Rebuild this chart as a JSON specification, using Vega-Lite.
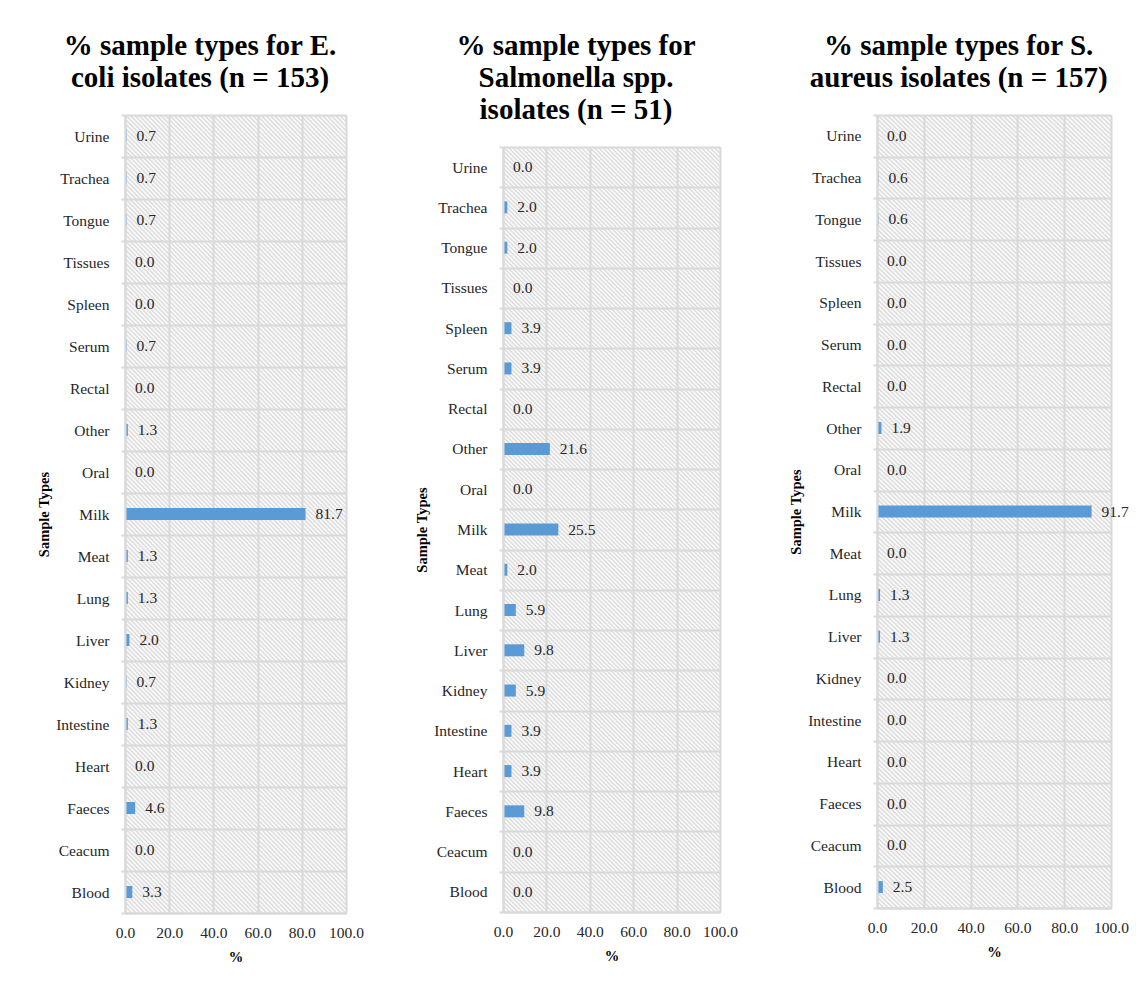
{
  "$schema": "https://vega.github.io/schema/vega-lite/v6.json",
  "background": "white",
  "padding": {"left": 36, "top": 31, "right": 4, "bottom": 4},
  "spacing": 50,
  "align": "none",
  "bounds": "full",
  "datasets": {
    "isolates": [
      {"organism": "E. coli", "sample": "Urine", "pct": 0.7},
      {"organism": "E. coli", "sample": "Trachea", "pct": 0.7},
      {"organism": "E. coli", "sample": "Tongue", "pct": 0.7},
      {"organism": "E. coli", "sample": "Tissues", "pct": 0.0},
      {"organism": "E. coli", "sample": "Spleen", "pct": 0.0},
      {"organism": "E. coli", "sample": "Serum", "pct": 0.7},
      {"organism": "E. coli", "sample": "Rectal", "pct": 0.0},
      {"organism": "E. coli", "sample": "Other", "pct": 1.3},
      {"organism": "E. coli", "sample": "Oral", "pct": 0.0},
      {"organism": "E. coli", "sample": "Milk", "pct": 81.7},
      {"organism": "E. coli", "sample": "Meat", "pct": 1.3},
      {"organism": "E. coli", "sample": "Lung", "pct": 1.3},
      {"organism": "E. coli", "sample": "Liver", "pct": 2.0},
      {"organism": "E. coli", "sample": "Kidney", "pct": 0.7},
      {"organism": "E. coli", "sample": "Intestine", "pct": 1.3},
      {"organism": "E. coli", "sample": "Heart", "pct": 0.0},
      {"organism": "E. coli", "sample": "Faeces", "pct": 4.6},
      {"organism": "E. coli", "sample": "Ceacum", "pct": 0.0},
      {"organism": "E. coli", "sample": "Blood", "pct": 3.3},
      {"organism": "Salmonella", "sample": "Urine", "pct": 0.0},
      {"organism": "Salmonella", "sample": "Trachea", "pct": 2.0},
      {"organism": "Salmonella", "sample": "Tongue", "pct": 2.0},
      {"organism": "Salmonella", "sample": "Tissues", "pct": 0.0},
      {"organism": "Salmonella", "sample": "Spleen", "pct": 3.9},
      {"organism": "Salmonella", "sample": "Serum", "pct": 3.9},
      {"organism": "Salmonella", "sample": "Rectal", "pct": 0.0},
      {"organism": "Salmonella", "sample": "Other", "pct": 21.6},
      {"organism": "Salmonella", "sample": "Oral", "pct": 0.0},
      {"organism": "Salmonella", "sample": "Milk", "pct": 25.5},
      {"organism": "Salmonella", "sample": "Meat", "pct": 2.0},
      {"organism": "Salmonella", "sample": "Lung", "pct": 5.9},
      {"organism": "Salmonella", "sample": "Liver", "pct": 9.8},
      {"organism": "Salmonella", "sample": "Kidney", "pct": 5.9},
      {"organism": "Salmonella", "sample": "Intestine", "pct": 3.9},
      {"organism": "Salmonella", "sample": "Heart", "pct": 3.9},
      {"organism": "Salmonella", "sample": "Faeces", "pct": 9.8},
      {"organism": "Salmonella", "sample": "Ceacum", "pct": 0.0},
      {"organism": "Salmonella", "sample": "Blood", "pct": 0.0},
      {"organism": "S. aureus", "sample": "Urine", "pct": 0.0},
      {"organism": "S. aureus", "sample": "Trachea", "pct": 0.6},
      {"organism": "S. aureus", "sample": "Tongue", "pct": 0.6},
      {"organism": "S. aureus", "sample": "Tissues", "pct": 0.0},
      {"organism": "S. aureus", "sample": "Spleen", "pct": 0.0},
      {"organism": "S. aureus", "sample": "Serum", "pct": 0.0},
      {"organism": "S. aureus", "sample": "Rectal", "pct": 0.0},
      {"organism": "S. aureus", "sample": "Other", "pct": 1.9},
      {"organism": "S. aureus", "sample": "Oral", "pct": 0.0},
      {"organism": "S. aureus", "sample": "Milk", "pct": 91.7},
      {"organism": "S. aureus", "sample": "Meat", "pct": 0.0},
      {"organism": "S. aureus", "sample": "Lung", "pct": 1.3},
      {"organism": "S. aureus", "sample": "Liver", "pct": 1.3},
      {"organism": "S. aureus", "sample": "Kidney", "pct": 0.0},
      {"organism": "S. aureus", "sample": "Intestine", "pct": 0.0},
      {"organism": "S. aureus", "sample": "Heart", "pct": 0.0},
      {"organism": "S. aureus", "sample": "Faeces", "pct": 0.0},
      {"organism": "S. aureus", "sample": "Ceacum", "pct": 0.0},
      {"organism": "S. aureus", "sample": "Blood", "pct": 2.5}
    ],
    "none": []
  },
  "hconcat": [
    {
      "spacing": 0,
      "vconcat": [
        {"width": 10, "height": 1, "data": {"name": "none"}, "mark": {"type": "point", "opacity": 0}},
        {
          "width": 221,
          "height": 798,
          "title": {"text": ["% sample types for E.", "coli isolates (n = 153)"]},
          "data": {"name": "isolates"},
          "transform": [{"filter": "datum.organism === 'E. coli'"}],
          "encoding": {
            "y": {
              "field": "sample", "type": "nominal", "title": "Sample Types",
              "sort": ["Urine", "Trachea", "Tongue", "Tissues", "Spleen", "Serum", "Rectal", "Other", "Oral", "Milk", "Meat", "Lung", "Liver", "Kidney", "Intestine", "Heart", "Faeces", "Ceacum", "Blood"],
              "scale": {"paddingInner": 0, "paddingOuter": 0},
              "axis": {"tickBand": "extent", "grid": true, "domain": true, "ticks": true, "tickSize": 4, "labelPadding": 12, "titlePadding": 4}
            }
          },
          "layer": [
            {
              "mark": {"type": "rect"},
              "encoding": {
                "x": {"datum": 0, "type": "quantitative", "title": "%", "scale": {"domain": [0, 100], "nice": false},
                      "axis": {"values": [0, 20, 40, 60, 80, 100], "format": ".1f", "ticks": false, "tickSize": 0, "labelFlush": false, "labelPadding": 12, "titlePadding": 10, "grid": true, "domain": true}},
                "x2": {"datum": 100}
              }
            },
            {
              "mark": {"type": "bar", "size": 12},
              "encoding": {"x": {"field": "pct", "type": "quantitative", "title": "%"}}
            },
            {
              "mark": {"type": "text", "align": "left", "baseline": "middle", "dx": 10},
              "encoding": {"x": {"field": "pct", "type": "quantitative", "title": "%"}, "text": {"field": "pct", "type": "quantitative", "format": ".1f"}}
            }
          ]
        }
      ]
    },
    {
      "spacing": 0,
      "vconcat": [
        {"width": 10, "height": 1, "data": {"name": "none"}, "mark": {"type": "point", "opacity": 0}},
        {
          "width": 217,
          "height": 765,
          "title": {"text": ["% sample types for", "Salmonella spp.", "isolates (n = 51)"]},
          "data": {"name": "isolates"},
          "transform": [{"filter": "datum.organism === 'Salmonella'"}],
          "encoding": {
            "y": {
              "field": "sample", "type": "nominal", "title": "Sample Types",
              "sort": ["Urine", "Trachea", "Tongue", "Tissues", "Spleen", "Serum", "Rectal", "Other", "Oral", "Milk", "Meat", "Lung", "Liver", "Kidney", "Intestine", "Heart", "Faeces", "Ceacum", "Blood"],
              "scale": {"paddingInner": 0, "paddingOuter": 0},
              "axis": {"tickBand": "extent", "grid": true, "domain": true, "ticks": true, "tickSize": 4, "labelPadding": 12, "titlePadding": 4}
            }
          },
          "layer": [
            {
              "mark": {"type": "rect"},
              "encoding": {
                "x": {"datum": 0, "type": "quantitative", "title": "%", "scale": {"domain": [0, 100], "nice": false},
                      "axis": {"values": [0, 20, 40, 60, 80, 100], "format": ".1f", "ticks": false, "tickSize": 0, "labelFlush": false, "labelPadding": 12, "titlePadding": 10, "grid": true, "domain": true}},
                "x2": {"datum": 100}
              }
            },
            {
              "mark": {"type": "bar", "size": 12},
              "encoding": {"x": {"field": "pct", "type": "quantitative", "title": "%"}}
            },
            {
              "mark": {"type": "text", "align": "left", "baseline": "middle", "dx": 10},
              "encoding": {"x": {"field": "pct", "type": "quantitative", "title": "%"}, "text": {"field": "pct", "type": "quantitative", "format": ".1f"}}
            }
          ]
        }
      ]
    },
    {
      "spacing": 0,
      "vconcat": [
        {"width": 10, "height": 1, "data": {"name": "none"}, "mark": {"type": "point", "opacity": 0}},
        {
          "width": 234,
          "height": 793,
          "title": {"text": ["% sample types for S.", "aureus isolates (n = 157)"]},
          "data": {"name": "isolates"},
          "transform": [{"filter": "datum.organism === 'S. aureus'"}],
          "encoding": {
            "y": {
              "field": "sample", "type": "nominal", "title": "Sample Types",
              "sort": ["Urine", "Trachea", "Tongue", "Tissues", "Spleen", "Serum", "Rectal", "Other", "Oral", "Milk", "Meat", "Lung", "Liver", "Kidney", "Intestine", "Heart", "Faeces", "Ceacum", "Blood"],
              "scale": {"paddingInner": 0, "paddingOuter": 0},
              "axis": {"tickBand": "extent", "grid": true, "domain": true, "ticks": true, "tickSize": 4, "labelPadding": 12, "titlePadding": 4}
            }
          },
          "layer": [
            {
              "mark": {"type": "rect"},
              "encoding": {
                "x": {"datum": 0, "type": "quantitative", "title": "%", "scale": {"domain": [0, 100], "nice": false},
                      "axis": {"values": [0, 20, 40, 60, 80, 100], "format": ".1f", "ticks": false, "tickSize": 0, "labelFlush": false, "labelPadding": 12, "titlePadding": 10, "grid": true, "domain": true}},
                "x2": {"datum": 100}
              }
            },
            {
              "mark": {"type": "bar", "size": 12},
              "encoding": {"x": {"field": "pct", "type": "quantitative", "title": "%"}}
            },
            {
              "mark": {"type": "text", "align": "left", "baseline": "middle", "dx": 10},
              "encoding": {"x": {"field": "pct", "type": "quantitative", "title": "%"}, "text": {"field": "pct", "type": "quantitative", "format": ".1f"}}
            }
          ]
        }
      ]
    }
  ],
  "config": {
    "view": {"stroke": null},
    "font": "Liberation Serif",
    "bar": {"color": "#5b9bd5"},
    "text": {"font": "Liberation Serif", "fontSize": 15.5, "color": "#262626"},
    "rect": {
      "stroke": null,
      "fill": {
        "gradient": "linear", "x1": 0, "y1": 1, "x2": 1.146, "y2": 0.788,
        "stops": [
          {"offset": 0, "color": "rgba(217,217,217,0)"}, {"offset": 0.0083, "color": "#d9d9d9"},
          {"offset": 0.0167, "color": "rgba(217,217,217,0)"}, {"offset": 0.025, "color": "#d9d9d9"},
          {"offset": 0.0333, "color": "rgba(217,217,217,0)"}, {"offset": 0.0417, "color": "#d9d9d9"},
          {"offset": 0.05, "color": "rgba(217,217,217,0)"}, {"offset": 0.0583, "color": "#d9d9d9"},
          {"offset": 0.0667, "color": "rgba(217,217,217,0)"}, {"offset": 0.075, "color": "#d9d9d9"},
          {"offset": 0.0833, "color": "rgba(217,217,217,0)"}, {"offset": 0.0917, "color": "#d9d9d9"},
          {"offset": 0.1, "color": "rgba(217,217,217,0)"}, {"offset": 0.1083, "color": "#d9d9d9"},
          {"offset": 0.1167, "color": "rgba(217,217,217,0)"}, {"offset": 0.125, "color": "#d9d9d9"},
          {"offset": 0.1333, "color": "rgba(217,217,217,0)"}, {"offset": 0.1417, "color": "#d9d9d9"},
          {"offset": 0.15, "color": "rgba(217,217,217,0)"}, {"offset": 0.1583, "color": "#d9d9d9"},
          {"offset": 0.1667, "color": "rgba(217,217,217,0)"}, {"offset": 0.175, "color": "#d9d9d9"},
          {"offset": 0.1833, "color": "rgba(217,217,217,0)"}, {"offset": 0.1917, "color": "#d9d9d9"},
          {"offset": 0.2, "color": "rgba(217,217,217,0)"}, {"offset": 0.2083, "color": "#d9d9d9"},
          {"offset": 0.2167, "color": "rgba(217,217,217,0)"}, {"offset": 0.225, "color": "#d9d9d9"},
          {"offset": 0.2333, "color": "rgba(217,217,217,0)"}, {"offset": 0.2417, "color": "#d9d9d9"},
          {"offset": 0.25, "color": "rgba(217,217,217,0)"}, {"offset": 0.2583, "color": "#d9d9d9"},
          {"offset": 0.2667, "color": "rgba(217,217,217,0)"}, {"offset": 0.275, "color": "#d9d9d9"},
          {"offset": 0.2833, "color": "rgba(217,217,217,0)"}, {"offset": 0.2917, "color": "#d9d9d9"},
          {"offset": 0.3, "color": "rgba(217,217,217,0)"}, {"offset": 0.3083, "color": "#d9d9d9"},
          {"offset": 0.3167, "color": "rgba(217,217,217,0)"}, {"offset": 0.325, "color": "#d9d9d9"},
          {"offset": 0.3333, "color": "rgba(217,217,217,0)"}, {"offset": 0.3417, "color": "#d9d9d9"},
          {"offset": 0.35, "color": "rgba(217,217,217,0)"}, {"offset": 0.3583, "color": "#d9d9d9"},
          {"offset": 0.3667, "color": "rgba(217,217,217,0)"}, {"offset": 0.375, "color": "#d9d9d9"},
          {"offset": 0.3833, "color": "rgba(217,217,217,0)"}, {"offset": 0.3917, "color": "#d9d9d9"},
          {"offset": 0.4, "color": "rgba(217,217,217,0)"}, {"offset": 0.4083, "color": "#d9d9d9"},
          {"offset": 0.4167, "color": "rgba(217,217,217,0)"}, {"offset": 0.425, "color": "#d9d9d9"},
          {"offset": 0.4333, "color": "rgba(217,217,217,0)"}, {"offset": 0.4417, "color": "#d9d9d9"},
          {"offset": 0.45, "color": "rgba(217,217,217,0)"}, {"offset": 0.4583, "color": "#d9d9d9"},
          {"offset": 0.4667, "color": "rgba(217,217,217,0)"}, {"offset": 0.475, "color": "#d9d9d9"},
          {"offset": 0.4833, "color": "rgba(217,217,217,0)"}, {"offset": 0.4917, "color": "#d9d9d9"},
          {"offset": 0.5, "color": "rgba(217,217,217,0)"}, {"offset": 0.5083, "color": "#d9d9d9"},
          {"offset": 0.5167, "color": "rgba(217,217,217,0)"}, {"offset": 0.525, "color": "#d9d9d9"},
          {"offset": 0.5333, "color": "rgba(217,217,217,0)"}, {"offset": 0.5417, "color": "#d9d9d9"},
          {"offset": 0.55, "color": "rgba(217,217,217,0)"}, {"offset": 0.5583, "color": "#d9d9d9"},
          {"offset": 0.5667, "color": "rgba(217,217,217,0)"}, {"offset": 0.575, "color": "#d9d9d9"},
          {"offset": 0.5833, "color": "rgba(217,217,217,0)"}, {"offset": 0.5917, "color": "#d9d9d9"},
          {"offset": 0.6, "color": "rgba(217,217,217,0)"}, {"offset": 0.6083, "color": "#d9d9d9"},
          {"offset": 0.6167, "color": "rgba(217,217,217,0)"}, {"offset": 0.625, "color": "#d9d9d9"},
          {"offset": 0.6333, "color": "rgba(217,217,217,0)"}, {"offset": 0.6417, "color": "#d9d9d9"},
          {"offset": 0.65, "color": "rgba(217,217,217,0)"}, {"offset": 0.6583, "color": "#d9d9d9"},
          {"offset": 0.6667, "color": "rgba(217,217,217,0)"}, {"offset": 0.675, "color": "#d9d9d9"},
          {"offset": 0.6833, "color": "rgba(217,217,217,0)"}, {"offset": 0.6917, "color": "#d9d9d9"},
          {"offset": 0.7, "color": "rgba(217,217,217,0)"}, {"offset": 0.7083, "color": "#d9d9d9"},
          {"offset": 0.7167, "color": "rgba(217,217,217,0)"}, {"offset": 0.725, "color": "#d9d9d9"},
          {"offset": 0.7333, "color": "rgba(217,217,217,0)"}, {"offset": 0.7417, "color": "#d9d9d9"},
          {"offset": 0.75, "color": "rgba(217,217,217,0)"}, {"offset": 0.7583, "color": "#d9d9d9"},
          {"offset": 0.7667, "color": "rgba(217,217,217,0)"}, {"offset": 0.775, "color": "#d9d9d9"},
          {"offset": 0.7833, "color": "rgba(217,217,217,0)"}, {"offset": 0.7917, "color": "#d9d9d9"},
          {"offset": 0.8, "color": "rgba(217,217,217,0)"}, {"offset": 0.8083, "color": "#d9d9d9"},
          {"offset": 0.8167, "color": "rgba(217,217,217,0)"}, {"offset": 0.825, "color": "#d9d9d9"},
          {"offset": 0.8333, "color": "rgba(217,217,217,0)"}, {"offset": 0.8417, "color": "#d9d9d9"},
          {"offset": 0.85, "color": "rgba(217,217,217,0)"}, {"offset": 0.8583, "color": "#d9d9d9"},
          {"offset": 0.8667, "color": "rgba(217,217,217,0)"}, {"offset": 0.875, "color": "#d9d9d9"},
          {"offset": 0.8833, "color": "rgba(217,217,217,0)"}, {"offset": 0.8917, "color": "#d9d9d9"},
          {"offset": 0.9, "color": "rgba(217,217,217,0)"}, {"offset": 0.9083, "color": "#d9d9d9"},
          {"offset": 0.9167, "color": "rgba(217,217,217,0)"}, {"offset": 0.925, "color": "#d9d9d9"},
          {"offset": 0.9333, "color": "rgba(217,217,217,0)"}, {"offset": 0.9417, "color": "#d9d9d9"},
          {"offset": 0.95, "color": "rgba(217,217,217,0)"}, {"offset": 0.9583, "color": "#d9d9d9"},
          {"offset": 0.9667, "color": "rgba(217,217,217,0)"}, {"offset": 0.975, "color": "#d9d9d9"},
          {"offset": 0.9833, "color": "rgba(217,217,217,0)"}, {"offset": 0.9917, "color": "#d9d9d9"},
          {"offset": 1, "color": "rgba(217,217,217,0)"}
        ]
      }
    },
    "axis": {
      "labelFont": "Liberation Serif", "labelFontSize": 15.5, "labelColor": "#262626",
      "titleFont": "Liberation Serif", "titleFontSize": 14.5, "titleFontWeight": "bold", "titleColor": "#000000",
      "gridColor": "#d9d9d9", "gridWidth": 2,
      "domainColor": "#d9d9d9", "domainWidth": 2,
      "tickColor": "#d9d9d9", "tickWidth": 2
    },
    "title": {
      "font": "Liberation Serif", "fontSize": 29, "fontWeight": "bold", "color": "#000000",
      "anchor": "middle", "frame": "bounds", "lineHeight": 32, "offset": 15
    }
  }
}
